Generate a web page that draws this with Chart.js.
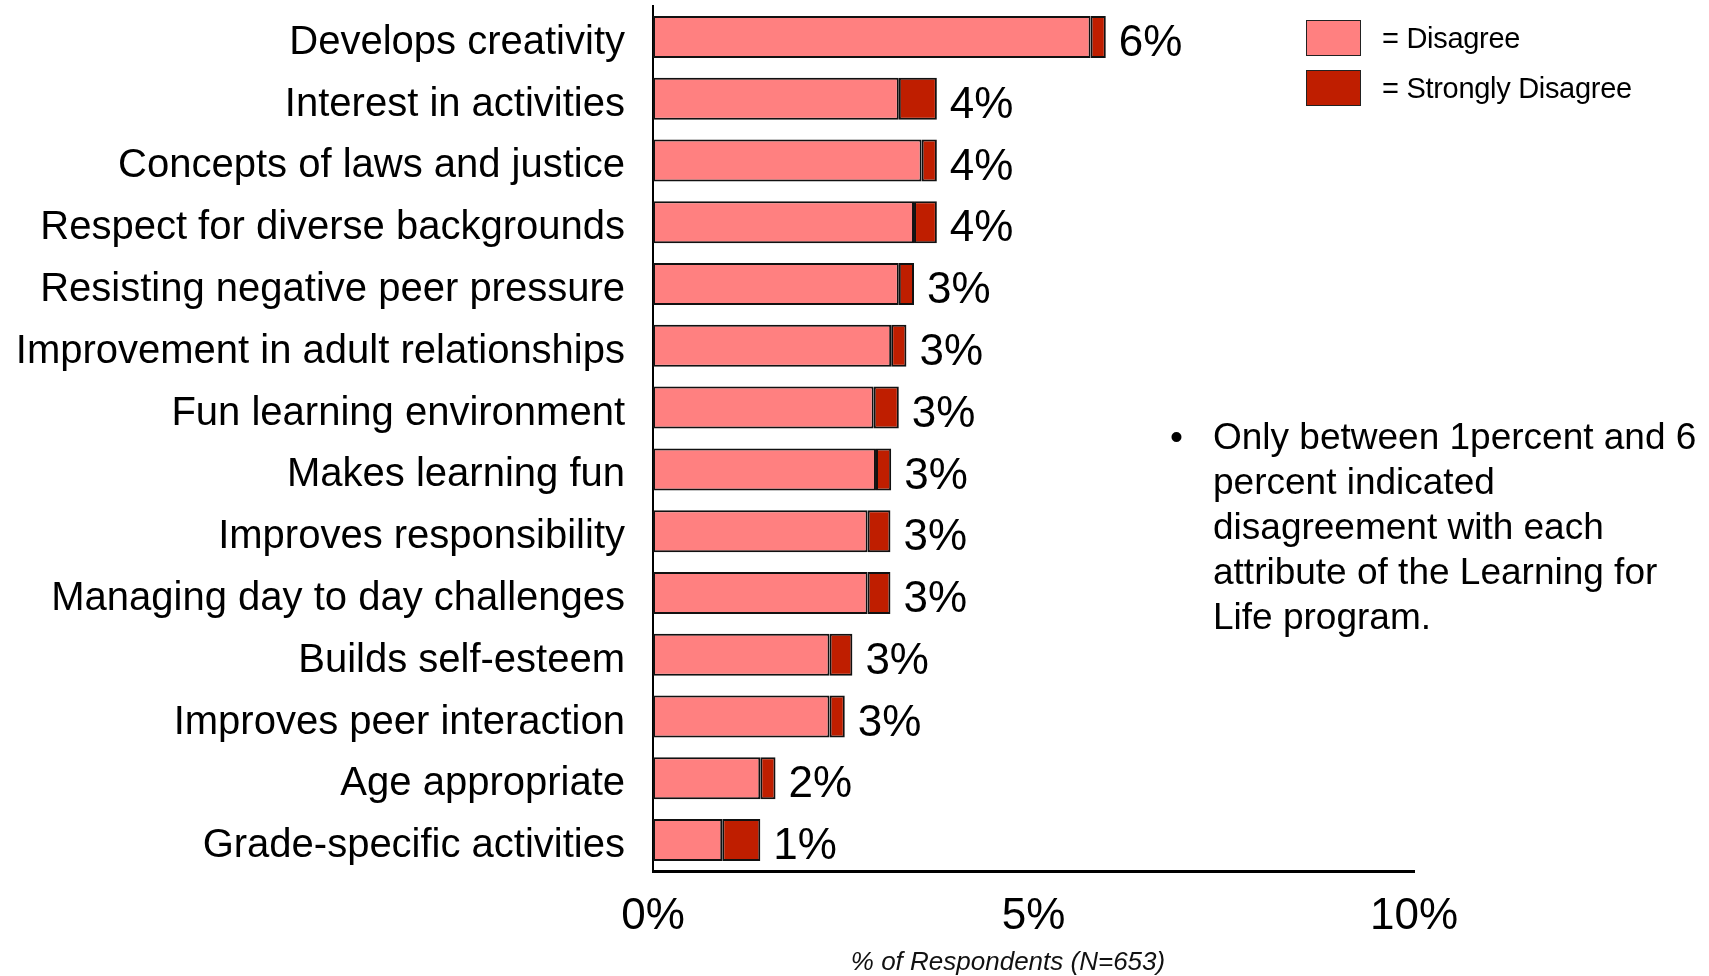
<!DOCTYPE html>
<html>
<head>
<meta charset="utf-8">
<script src="https://cdn.jsdelivr.net/npm/chart.js@4/dist/chart.umd.min.js"></script>
<style>
  body { margin: 0; background: #fff; font-family: "Liberation Sans", Arial, sans-serif; }
  #wrap { position: relative; width: 1709px; height: 976px; overflow: hidden; }
  #wrap canvas { position: absolute; left: 0; top: 0; }
  .legend { position: absolute; left: 1306px; font-size: 29px; letter-spacing: -0.3px; color: #000; }
  .legend .row { display: flex; align-items: center; height: 36px; margin-bottom: 14px; }
  .legend .box { width: 53px; height: 34px; border: 1px solid #222; margin-right: 21px; }
  .note { position: absolute; left: 1170px; top: 414px; font-size: 37px; line-height: 45px; color: #000; }
  .note .dot { position: absolute; left: 0; top: 0; }
  .note .txt { margin-left: 43px; white-space: nowrap; }
  .xtitle { position: absolute; left: 1008px; top: 961px; transform: translate(-50%, -50%);
    font-size: 26px; font-style: italic; color: #111; white-space: nowrap; }
</style>
</head>
<body>
<div id="wrap">
  <canvas id="chart" width="1709" height="976"></canvas>
  <div class="legend" style="top:20px">
    <div class="row"><div class="box" style="background:#ff8080"></div><span>= Disagree</span></div>
    <div class="row"><div class="box" style="background:#bf1e00"></div><span>= Strongly Disagree</span></div>
  </div>
  <div class="note">
    <span class="dot">&bull;</span>
    <div class="txt">Only between 1percent and 6<br>percent indicated<br>disagreement with each<br>attribute of the Learning for<br>Life program.</div>
  </div>
  <div class="xtitle">% of Respondents (N=653)</div>
</div>
<script>
const categories = [
  "Develops creativity",
  "Interest in activities",
  "Concepts of laws and justice",
  "Respect for diverse backgrounds",
  "Resisting negative peer pressure",
  "Improvement in adult relationships",
  "Fun learning environment",
  "Makes learning fun",
  "Improves responsibility",
  "Managing day to day challenges",
  "Builds self-esteem",
  "Improves peer interaction",
  "Age appropriate",
  "Grade-specific activities"
];
const disagree = [5.75, 3.23, 3.53, 3.43, 3.23, 3.13, 2.9, 2.93, 2.82, 2.82, 2.32, 2.32, 1.41, 0.91];
const stronglyDisagree = [0.2, 0.5, 0.2, 0.3, 0.2, 0.2, 0.33, 0.2, 0.3, 0.3, 0.3, 0.2, 0.2, 0.5];
const totalLabels = ["6%", "4%", "4%", "4%", "3%", "3%", "3%", "3%", "3%", "3%", "3%", "3%", "2%", "1%"];
const xTicks = [0, 5, 10];

const FONT = "'Liberation Sans', Arial, sans-serif";

// total % written right of each bar
const valueLabels = {
  id: "valueLabels",
  afterDatasetsDraw(chart) {
    const ctx = chart.ctx;
    const meta = chart.getDatasetMeta(1);
    ctx.save();
    ctx.font = "44px " + FONT;
    ctx.fillStyle = "#000";
    ctx.textBaseline = "middle";
    meta.data.forEach((bar, i) => {
      ctx.fillText(totalLabels[i], bar.x + 13, bar.y + 7);
    });
    ctx.restore();
  }
};

new Chart(document.getElementById("chart"), {
  type: "bar",
  data: {
    labels: categories,
    datasets: [
      {
        label: "Disagree",
        data: disagree,
        backgroundColor: "#ff8080",
        borderColor: "#111",
        borderWidth: 2,
        borderSkipped: false
      },
      {
        label: "Strongly Disagree",
        data: stronglyDisagree,
        backgroundColor: "#bf1e00",
        borderColor: "#111",
        borderWidth: 2,
        borderSkipped: false
      }
    ]
  },
  options: {
    indexAxis: "y",
    responsive: false,
    animation: false,
    events: [],
    layout: { padding: { top: 6, right: 295, bottom: 0, left: 0 } },
    datasets: { bar: { categoryPercentage: 1, barPercentage: 0.68 } },
    plugins: { legend: { display: false }, tooltip: { enabled: false } },
    scales: {
      x: {
        stacked: true,
        min: 0,
        max: 10,
        afterBuildTicks: s => { s.ticks = xTicks.map(v => ({ value: v })); },
        afterFit: s => { s.height = 105; s.paddingLeft = 0; s.paddingRight = 0; },
        grid: { display: false, drawTicks: false },
        border: { display: true, color: "#000", width: 3 },
        ticks: {
          padding: 19,
          color: "#000",
          font: { family: FONT, size: 44 },
          callback: v => v + "%"
        }
      },
      y: {
        stacked: true,
        afterFit: s => { s.width = 653; s.paddingTop = 0; s.paddingBottom = 0; },
        grid: { display: false, drawTicks: false },
        border: { display: true, color: "#000", width: 2 },
        ticks: {
          autoSkip: false,
          padding: 28,
          labelOffset: 6,
          color: "#000",
          font: { family: FONT, size: 40 }
        }
      }
    }
  },
  plugins: [valueLabels]
});
</script>
</body>
</html>
